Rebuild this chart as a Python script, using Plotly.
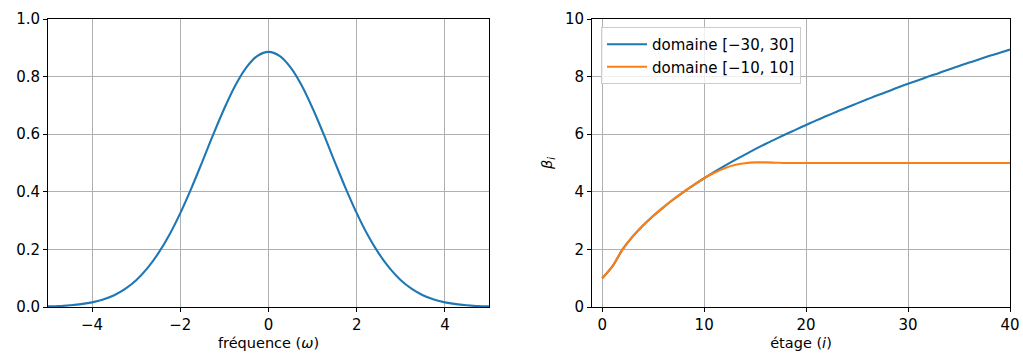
import plotly.graph_objects as go
from plotly.subplots import make_subplots

# Left panel: spectrum vs frequency
omega = [-5.0, -4.75, -4.5, -4.25, -4.0, -3.75, -3.5, -3.25, -3.0, -2.75, -2.5, -2.25,
         -2.0, -1.75, -1.5, -1.25, -1.0, -0.75, -0.5, -0.25, 0.0,
         0.25, 0.5, 0.75, 1.0, 1.25, 1.5, 1.75, 2.0, 2.25, 2.5, 2.75,
         3.0, 3.25, 3.5, 3.75, 4.0, 4.25, 4.5, 4.75, 5.0]
spectrum = [0.002, 0.003, 0.006, 0.010, 0.016, 0.026, 0.041, 0.063, 0.093, 0.134, 0.186, 0.250,
            0.326, 0.412, 0.505, 0.600, 0.690, 0.770, 0.832, 0.872, 0.886,
            0.872, 0.832, 0.770, 0.690, 0.600, 0.505, 0.412, 0.326, 0.250, 0.186, 0.134,
            0.093, 0.063, 0.041, 0.026, 0.016, 0.010, 0.006, 0.003, 0.002]

# Right panel: beta_i vs stage
stage = list(range(41))
beta_30 = [1.00, 1.41, 2.00, 2.45, 2.83, 3.16, 3.46, 3.74, 4.00, 4.24, 4.47,
           4.69, 4.90, 5.10, 5.29, 5.48, 5.66, 5.83, 6.00, 6.16, 6.32,
           6.48, 6.63, 6.78, 6.93, 7.07, 7.21, 7.35, 7.48, 7.62, 7.75,
           7.87, 8.00, 8.12, 8.25, 8.37, 8.49, 8.60, 8.72, 8.83, 8.94]
beta_10 = [1.00, 1.41, 2.00, 2.45, 2.83, 3.16, 3.46, 3.74, 4.00, 4.24, 4.47,
           4.66, 4.82, 4.93, 4.99, 5.02, 5.02, 5.01, 5.00, 5.00, 5.00,
           5.00, 5.00, 5.00, 5.00, 5.00, 5.00, 5.00, 5.00, 5.00, 5.00,
           5.00, 5.00, 5.00, 5.00, 5.00, 5.00, 5.00, 5.00, 5.00, 5.00]

labels = ["domaine [−30, 30]", "domaine [−10, 10]"]
BLUE = "#1f77b4"
ORANGE = "#ff7f0e"
FONT = "DejaVu Sans"

fig = make_subplots(rows=1, cols=2)
fig.add_trace(go.Scatter(x=omega, y=spectrum, mode="lines", line=dict(color=BLUE, width=2.1, shape="spline"),
                         showlegend=False), row=1, col=1)
fig.add_trace(go.Scatter(x=stage, y=beta_30, mode="lines", line=dict(color=BLUE, width=2.1, shape="spline"),
                         name=labels[0]), row=1, col=2)
fig.add_trace(go.Scatter(x=stage, y=beta_10, mode="lines", line=dict(color=ORANGE, width=2.1, shape="spline"),
                         name=labels[1]), row=1, col=2)

axis_common = dict(showline=True, linecolor="black", linewidth=1, mirror=True,
                   ticks="outside", ticklen=4, tickwidth=1, tickcolor="black",
                   showgrid=True, gridcolor="#b0b0b0", gridwidth=0.8, zeroline=False,
                   automargin=False,
                   tickfont=dict(family=FONT, size=15, color="black"))

ytop = 1 - 19 / 356
ybot = 1 - 307 / 356
title_font = dict(family=FONT, size=14.5, color="black")
fig.update_xaxes(axis_common)
fig.update_yaxes(axis_common)
fig.update_layout(
    xaxis=dict(domain=[48 / 1023, 489 / 1023], range=[-5, 5], dtick=2, tick0=0,
               title=dict(text="fréquence (<i>ω</i>)", font=title_font, standoff=4)),
    yaxis=dict(domain=[ybot, ytop], range=[0, 1], dtick=0.2, tick0=0, tickformat=".1f"),
    xaxis2=dict(domain=[592 / 1023, 1010 / 1023], range=[-1, 40], dtick=10, tick0=0,
                title=dict(text="étage (<i>i</i>)", font=title_font, standoff=4)),
    yaxis2=dict(domain=[ybot, ytop], range=[0, 10], dtick=2, tick0=0,
                title=dict(text="<i>β<sub>i</sub></i>", font=title_font, standoff=8)),
    width=1023, height=356,
    margin=dict(l=0, r=0, t=0, b=0),
    plot_bgcolor="white", paper_bgcolor="white",
    font=dict(family=FONT, size=14, color="black"),
    legend=dict(x=601 / 1023, y=1 - 27 / 356, xanchor="left", yanchor="top",
                bgcolor="rgba(255,255,255,0.8)", bordercolor="#cccccc", borderwidth=1,
                font=dict(family=FONT, size=15, color="black"), tracegroupgap=0,
                itemwidth=40),
)

fig.write_html("out.html")
